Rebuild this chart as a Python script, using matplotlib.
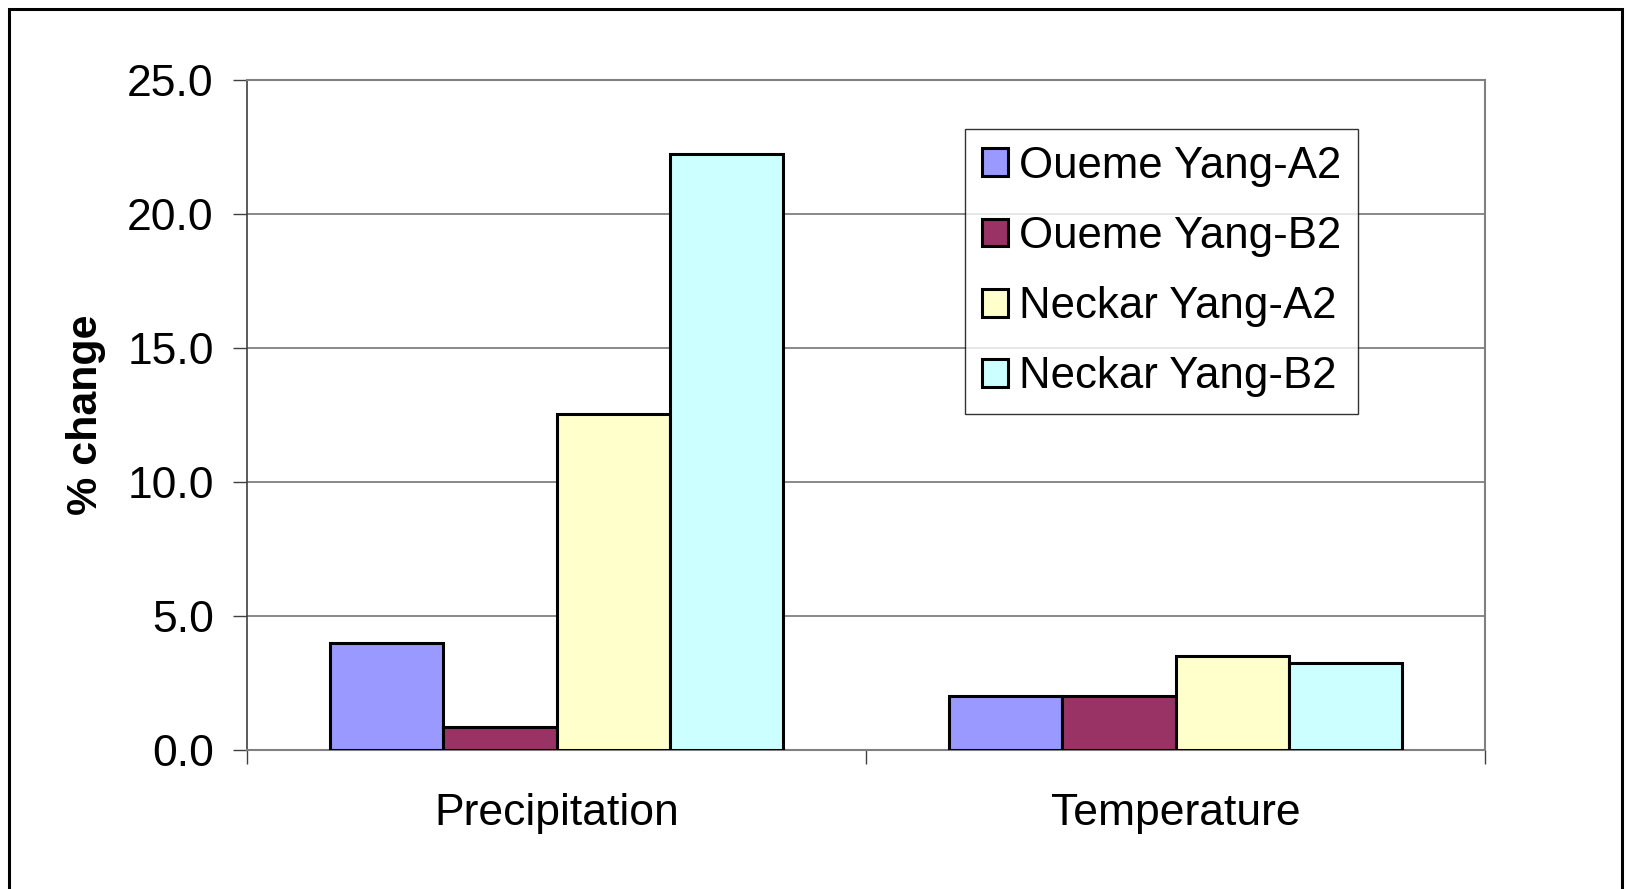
import matplotlib
matplotlib.use("Agg")
import matplotlib.pyplot as plt
import matplotlib.patches as mpatches
import numpy as np

plt.rcParams['font.family'] = ['Liberation Sans', 'DejaVu Sans']

categories = ["Precipitation", "Temperature"]
series_names = ["Oueme Yang-A2", "Oueme Yang-B2", "Neckar Yang-A2", "Neckar Yang-B2"]
oueme_a2 = [4.0, 2.0]
oueme_b2 = [0.87, 2.0]
neckar_a2 = [12.55, 3.5]
neckar_b2 = [22.25, 3.25]
series_values = [oueme_a2, oueme_b2, neckar_a2, neckar_b2]
colors = ["#9999FF", "#993366", "#FFFFCC", "#CCFFFF"]
yticks = [0, 5, 10, 15, 20, 25]

FS = 32

fig = plt.figure(figsize=(16.26, 8.89), dpi=100)
ax = fig.add_axes([247/1626, 1-750/889, (1485-247)/1626, (750-80)/889])

x = np.arange(len(categories))
bw = 0.183
for i, (name, vals, c) in enumerate(zip(series_names, series_values, colors)):
    ax.bar(x + (i - 1.5) * bw, vals, width=bw, color=c, edgecolor="black",
           linewidth=2.2, label=name, zorder=3)

ax.set_xlim(-0.5, 1.5)
ax.set_ylim(0, 25)
ax.set_yticks(yticks)
ax.set_yticklabels([f"{v:.1f}" for v in yticks], fontsize=FS)
ax.yaxis.grid(True, color="#808080", linewidth=1.3, zorder=0)
ax.set_axisbelow(True)

ax.set_xticks([-0.5, 0.5, 1.5])
ax.set_xticklabels([])
ax.set_xticks([0, 1], minor=True)
ax.set_xticklabels(categories, minor=True, fontsize=FS)
ax.tick_params(axis="x", which="minor", length=0, pad=31)
ax.tick_params(axis="x", which="major", length=10, width=1, color="#404040", direction="out")
ax.tick_params(axis="y", length=10, width=1, color="#404040", direction="out", pad=14)

for s in ["top", "right"]:
    ax.spines[s].set_color("#808080")
    ax.spines[s].set_linewidth(1.5)
ax.spines["bottom"].set_color("#808080")
ax.spines["bottom"].set_linewidth(1.5)
ax.spines["left"].set_color("#404040")
ax.spines["left"].set_linewidth(1.2)

ax.set_ylabel("% change", fontsize=FS - 1, fontweight="bold", labelpad=15)

leg = ax.legend(loc="upper left", bbox_to_anchor=(0.58, 0.927), fontsize=FS - 0.5,
                frameon=True, fancybox=False, edgecolor="black",
                handlelength=0.6, handleheight=0.6, handletextpad=0.25,
                labelspacing=0.67, borderpad=0.38, borderaxespad=0)
leg.get_frame().set_linewidth(1.0)

border = mpatches.Rectangle((9/1626, -0.05), (1622-9)/1626, 1-9/889+0.05,
                            transform=fig.transFigure, fill=False,
                            edgecolor="black", linewidth=2.2)
fig.patches.append(border)

fig.savefig("out.png", dpi=100)
